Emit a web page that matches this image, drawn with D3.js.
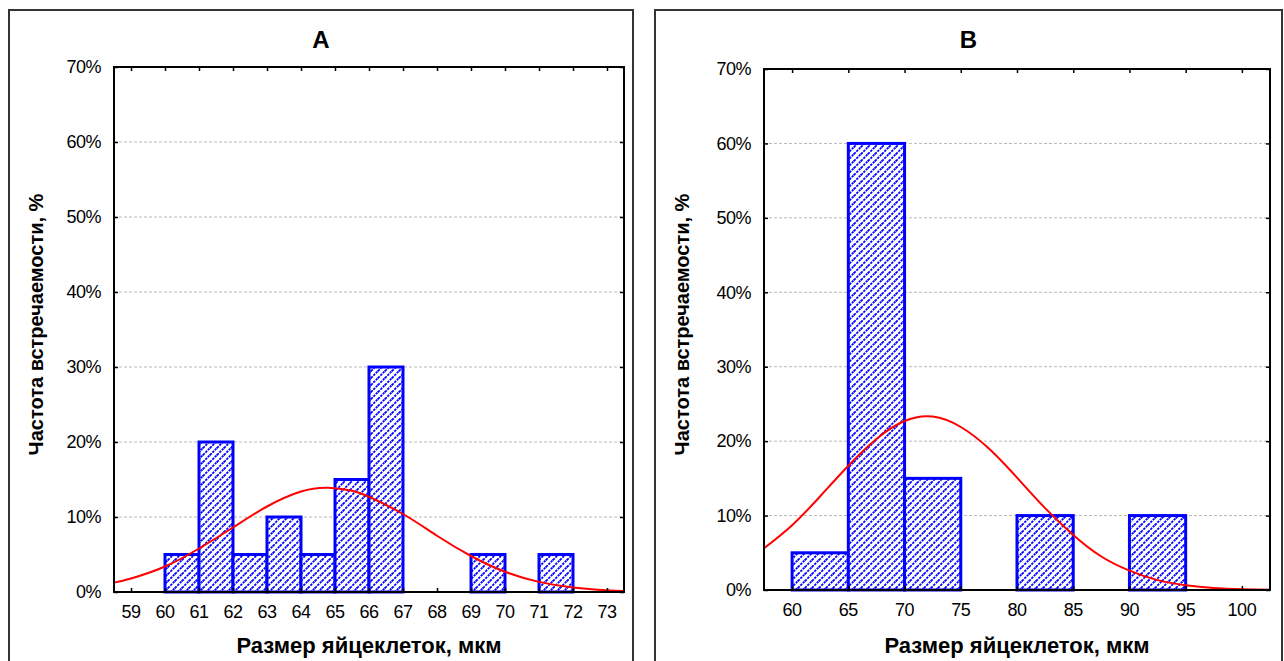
<!DOCTYPE html>
<html><head><meta charset="utf-8">
<script src="https://cdn.jsdelivr.net/npm/d3@7/dist/d3.min.js"></script>
<style>
html,body{margin:0;padding:0;background:#fff;}
svg{display:block;font-family:"Liberation Sans",Arial,sans-serif;}
</style></head>
<body><svg id="chart" width="1284" height="661"></svg>
<script>
// ---------- data ----------
const titleA = "A";
const titleB = "B";
const yLabel = "Частота встречаемости, %";
const xLabel = "Размер яйцеклеток, мкм";
const yTicks = [0, 10, 20, 30, 40, 50, 60, 70];

// Panel A: bins of width 1 µm (bin start), frequency %
const binStartA = [60, 61, 62, 63, 64, 65, 66, 69, 71];
const freqA     = [5, 20, 5, 10, 5, 15, 30, 5, 5];
const binWidthA = 1;
const xTicksA = [59, 60, 61, 62, 63, 64, 65, 66, 67, 68, 69, 70, 71, 72, 73];
const curveXA = [58.5, 59, 60, 61, 62, 63, 64, 64.8, 65.5, 66, 67, 68, 69, 70, 71, 72, 73, 73.5];
const curveYA = [1.25, 1.8, 3.4, 5.8, 8.6, 11.4, 13.4, 13.9, 13.5, 12.7, 10.4, 7.5, 4.8, 2.7, 1.35, 0.6, 0.23, 0.14];

// Panel B: bins of width 5 µm
const binStartB = [60, 65, 70, 80, 90];
const freqB     = [5, 60, 15, 10, 10];
const binWidthB = 5;
const xTicksB = [60, 65, 70, 75, 80, 85, 90, 95, 100];
const curveXB = [57.5, 60, 62.5, 65, 67.5, 70, 72.5, 75, 77.5, 80, 82.5, 85, 87.5, 90, 92.5, 95, 97.5, 100, 102.5];
const curveYB = [5.6, 8.7, 12.6, 16.7, 20.3, 22.7, 23.3, 21.9, 19.0, 15.1, 11.0, 7.4, 4.5, 2.6, 1.33, 0.64, 0.28, 0.11, 0.04];

// ---------- drawing ----------
const svg = d3.select("#chart");
const defs = svg.append("defs");
const T = 7;
const pat = defs.append("pattern").attr("id", "hatch")
  .attr("patternUnits", "userSpaceOnUse").attr("width", T).attr("height", T);
pat.append("rect").attr("width", T).attr("height", T).attr("fill", "#fff");
pat.append("path")
  .attr("d", `M-1,1 L1,-1 M0,${T} L${T},0 M${T-1},${T+1} L${T+1},${T-1}`)
  .attr("stroke", "#0000ff").attr("stroke-width", 1.8).attr("stroke-dasharray", "2.4,1");

function panel(cfg) {
  const g = svg.append("g");
  // outer frame
  g.append("path")
    .attr("d", `M${cfg.frame[0]},670 V${cfg.frame[1]} H${cfg.frame[2]} V670`)
    .attr("fill", "none").attr("stroke", "#333").attr("stroke-width", 2);
  g.append("text").attr("x", (cfg.frame[0] + cfg.frame[2]) / 2).attr("y", 48)
    .attr("text-anchor", "middle").attr("font-weight", "bold").attr("font-size", 24)
    .text(cfg.title);

  const x = d3.scaleLinear().domain(cfg.xDomain).range([cfg.left, cfg.right]);
  const y = d3.scaleLinear().domain([0, 70]).range([cfg.bottom, cfg.top]);

  // gridlines
  g.append("g").selectAll("line").data(yTicks.filter(d => d > 0 && d < 70)).join("line")
    .attr("x1", cfg.left).attr("x2", cfg.right)
    .attr("y1", d => y(d)).attr("y2", d => y(d))
    .attr("stroke", "#b8b8b8").attr("stroke-width", 1).attr("stroke-dasharray", "3,2");

  // bars
  g.append("g").selectAll("rect").data(cfg.bins.map((b, i) => ({b, f: cfg.freq[i]}))).join("rect")
    .attr("x", d => x(d.b)).attr("width", d => x(d.b + cfg.bw) - x(d.b))
    .attr("y", d => y(d.f)).attr("height", d => y(0) - y(d.f))
    .attr("fill", "url(#hatch)").attr("stroke", "#0000ff").attr("stroke-width", 3);

  // normal curve
  const line = d3.line().x(d => x(d[0])).y(d => y(d[1])).curve(d3.curveNatural);
  g.append("path").datum(cfg.cx.map((v, i) => [v, cfg.cy[i]]))
    .attr("d", line).attr("fill", "none").attr("stroke", "#ff0000").attr("stroke-width", 2);

  // axes (inward ticks on all four sides)
  const ax = (axis) => axis.tickSizeOuter(0);
  g.append("g").attr("transform", `translate(${cfg.left},0)`)
    .call(ax(d3.axisRight(y).tickValues(yTicks).tickSize(4).tickFormat("")));
  g.append("g").attr("transform", `translate(${cfg.right},0)`)
    .call(ax(d3.axisLeft(y).tickValues(yTicks).tickSize(4).tickFormat("")));
  g.append("g").attr("transform", `translate(0,${cfg.bottom})`)
    .call(ax(d3.axisTop(x).tickValues(cfg.xTicks).tickSize(4).tickFormat("")));
  g.append("g").attr("transform", `translate(0,${cfg.top})`)
    .call(ax(d3.axisBottom(x).tickValues(cfg.xTicks).tickSize(4).tickFormat("")));
  g.selectAll(".domain").remove();
  g.selectAll(".tick line").attr("stroke", "#000").attr("stroke-width", 1.5);

  // box
  g.append("rect").attr("x", cfg.left).attr("y", cfg.top)
    .attr("width", cfg.right - cfg.left).attr("height", cfg.bottom - cfg.top)
    .attr("fill", "none").attr("stroke", "#000").attr("stroke-width", 2);

  // tick labels
  g.append("g").selectAll("text").data(yTicks).join("text")
    .attr("x", cfg.left - 13).attr("y", d => y(d)).attr("dy", "0.35em")
    .attr("text-anchor", "end").attr("font-size", 18).attr("letter-spacing", "-0.5")
    .text(d => d + "%");
  g.append("g").selectAll("text").data(cfg.xTicks).join("text")
    .attr("x", d => x(d)).attr("y", cfg.bottom + 26)
    .attr("text-anchor", "middle").attr("font-size", 18).attr("letter-spacing", "-0.5")
    .text(d => d);

  // axis titles
  g.append("text").attr("transform", `translate(${cfg.frame[0] + 34},${(cfg.top + cfg.bottom) / 2 - 5}) rotate(-90)`)
    .attr("text-anchor", "middle").attr("font-weight", "bold").attr("font-size", 20)
    .text(yLabel);
  g.append("text").attr("x", (cfg.left + cfg.right) / 2).attr("y", 653)
    .attr("text-anchor", "middle").attr("font-weight", "bold").attr("font-size", 22)
    .text(xLabel);
}

panel({
  title: titleA, frame: [9, 10, 633],
  left: 114, right: 624, top: 67, bottom: 592,
  xDomain: [58.5, 73.5], xTicks: xTicksA,
  bins: binStartA, freq: freqA, bw: binWidthA, cx: curveXA, cy: curveYA
});
panel({
  title: titleB, frame: [655, 10, 1282],
  left: 764, right: 1270, top: 69, bottom: 590,
  xDomain: [57.5, 102.5], xTicks: xTicksB,
  bins: binStartB, freq: freqB, bw: binWidthB, cx: curveXB, cy: curveYB
});
</script></body></html>
